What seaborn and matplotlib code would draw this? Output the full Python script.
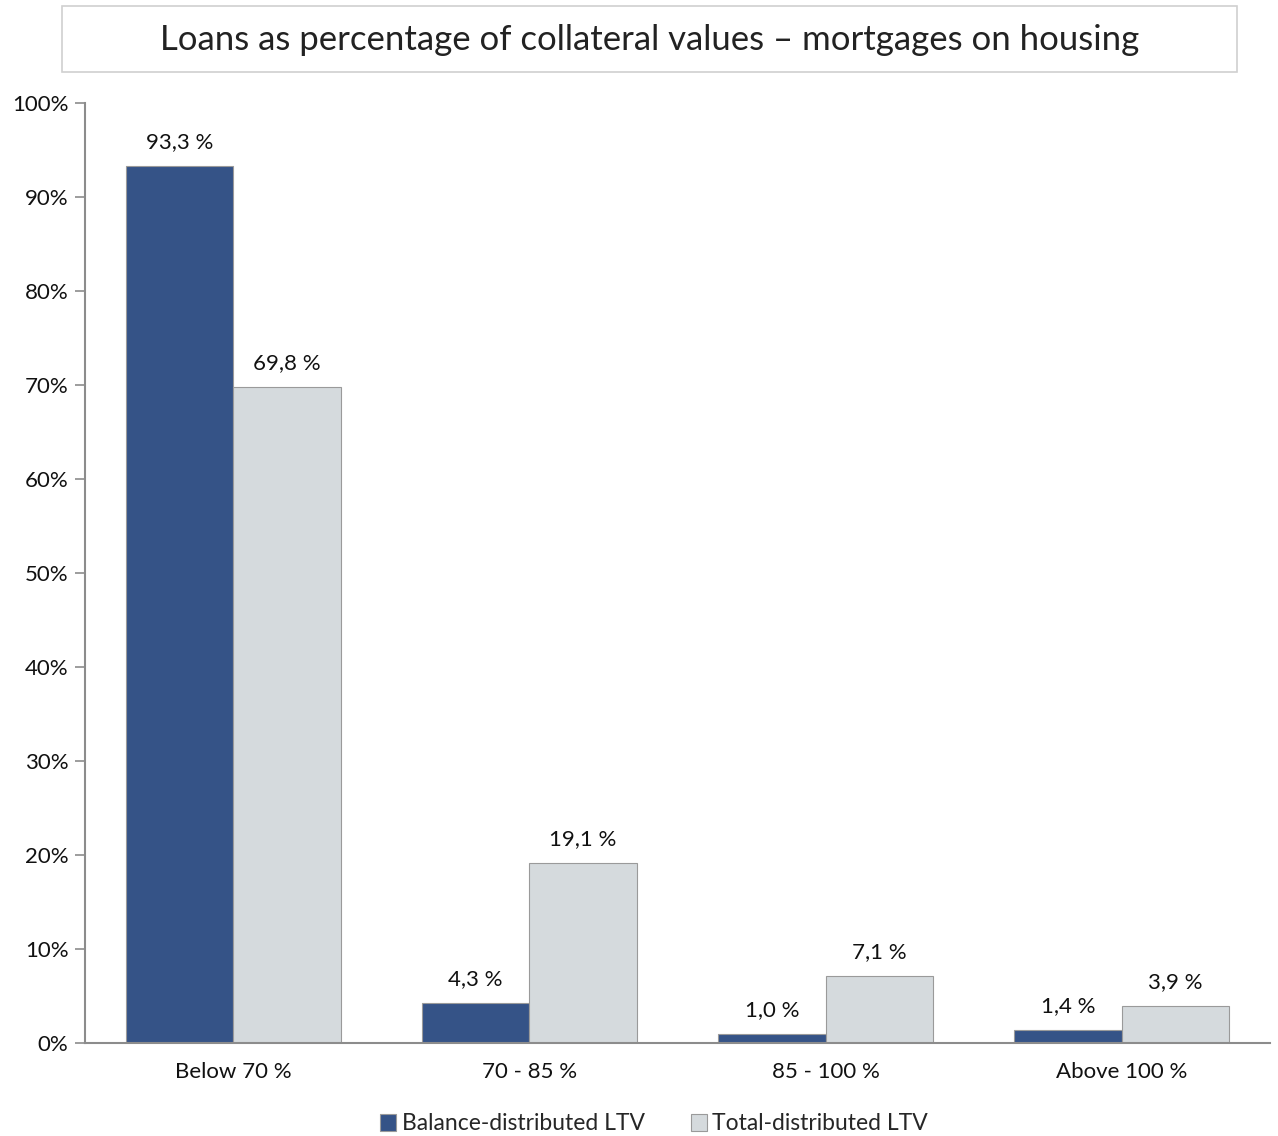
import matplotlib
matplotlib.use("Agg")
import matplotlib.pyplot as plt
from matplotlib.patches import Rectangle
import seaborn as sns
import pandas as pd

categories = ["Below 70 %", "70 - 85 %", "85 - 100 %", "Above 100 %"]
series_names = ["Balance-distributed LTV", "Total-distributed LTV"]
balance = [93.3, 4.3, 1.0, 1.4]
total = [69.8, 19.1, 7.1, 3.9]
yticks = [0, 10, 20, 30, 40, 50, 60, 70, 80, 90, 100]
title = "Loans as percentage of collateral values \u2013 mortgages on housing"

colors = ["#355387", "#D5DADD"]

df = pd.DataFrame({
    "cat": categories * 2,
    "series": [series_names[0]] * 4 + [series_names[1]] * 4,
    "value": balance + total,
})

sns.set_theme(style="white")
plt.rcParams["font.family"] = ["Lato", "DejaVu Sans"]

fig = plt.figure(figsize=(12.78, 11.36), dpi=100)
ax = fig.add_axes([85 / 1278, 93 / 1136, (1270 - 85) / 1278, (1043 - 103) / 1136])

sns.barplot(data=df, x="cat", y="value", hue="series", palette=colors, saturation=1,
            width=0.726, edgecolor="#9a9a9a", linewidth=0.8, ax=ax, legend=True)

for cont in ax.containers:
    ax.bar_label(cont, labels=[f"{v:.1f} %".replace(".", ",") for v in cont.datavalues],
                 padding=10, fontsize=16, color="#111111")

ax.set_xlim(-0.5, 3.5)
ax.set_ylim(0, 100)
ax.set_yticks(yticks)
ax.set_yticklabels([f"{t}%" for t in yticks], fontsize=16, color="#111111")
ax.set_xticks(range(len(categories)))
ax.set_xticklabels(categories, fontsize=16, color="#111111")
ax.set_xticks([i - 0.5 for i in range(len(categories) + 1)], minor=True)
ax.tick_params(axis="x", which="major", length=0, pad=14)
ax.tick_params(axis="x", which="minor", length=7, width=1.2, color="#8c8c8c", direction="out")
ax.tick_params(axis="y", length=7, width=1.2, color="#8c8c8c", direction="out", left=True, pad=5)
ax.set_xlabel("")
ax.set_ylabel("")
for s in ["top", "right"]:
    ax.spines[s].set_visible(False)
for s in ["left", "bottom"]:
    ax.spines[s].set_color("#8c8c8c")
    ax.spines[s].set_linewidth(1.5)

handles, labels = ax.get_legend_handles_labels()
ax.get_legend().remove()
fig.legend(handles, labels, loc="center", bbox_to_anchor=(654 / 1278, 1 - 1124 / 1136),
           ncol=2, frameon=False, fontsize=16.5, handlelength=0.7, handleheight=0.7,
           handletextpad=0.25, columnspacing=2.0)

# Title box
fig.patches.append(Rectangle((62 / 1278, 1 - 72 / 1136), (1237 - 62) / 1278, (72 - 6) / 1136,
                             transform=fig.transFigure, facecolor="white",
                             edgecolor="#d0d0d0", linewidth=1.2))
fig.text(650 / 1278, 1 - 40 / 1136, title, ha="center", va="center", fontsize=25, color="#222222")

fig.savefig("out.png", dpi=100, facecolor="white")
